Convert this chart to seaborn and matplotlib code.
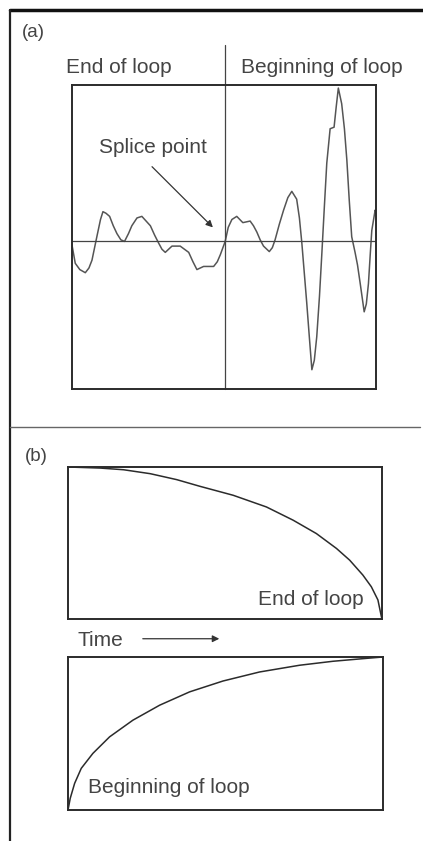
import matplotlib
matplotlib.use("Agg")
import matplotlib.pyplot as plt
from matplotlib.lines import Line2D
import numpy as np
import pandas as pd
import seaborn as sns

sns.set_style("white")
plt.rcParams["font.family"] = ["Liberation Sans", "DejaVu Sans"]

# Waveform around the loop splice (time relative to splice, amplitude)
wave_t = [-50.4, -49.3, -47.8, -46.0, -44.8, -43.8, -42.2, -41.0, -40.2, -39.2, -38.0,
          -36.8, -35.6, -34.3, -33.1, -31.8, -30.7, -29.0, -27.4, -26.0, -24.6, -23.2,
          -21.9, -20.8, -19.7, -18.6, -17.5, -14.8, -13.4, -12.0, -10.6, -9.3, -8.2,
          -7.1, -3.8, -2.6, -1.6, 0.0, 1.0, 2.2, 3.8, 5.8, 8.2, 9.3, 10.4, 11.5, 12.6,
          14.5, 15.5, 16.4, 17.8, 19.2, 20.6, 21.9, 23.5, 24.4, 25.2, 26.0, 26.8, 27.7,
          28.5, 29.3, 30.1, 31.0, 31.8, 32.6, 33.4, 34.5, 35.8, 36.5, 37.2, 38.3, 39.2,
          40.0, 40.8, 41.6, 42.7, 43.5, 44.4, 45.7, 46.4, 47.1, 47.7, 48.2, 49.3, 49.6]
wave_y = [-0.02, -0.14, -0.18, -0.20, -0.17, -0.12, 0.03, 0.14, 0.19, 0.18, 0.16,
          0.10, 0.05, 0.01, 0.00, 0.05, 0.10, 0.15, 0.16, 0.13, 0.10, 0.04,
          -0.01, -0.05, -0.07, -0.05, -0.03, -0.03, -0.05, -0.07, -0.13, -0.18, -0.17,
          -0.16, -0.16, -0.13, -0.085, 0.0, 0.09, 0.14, 0.16, 0.12, 0.13, 0.10, 0.06, 0.01, -0.03,
          -0.065, -0.04, 0.01, 0.11, 0.20, 0.28, 0.32, 0.27, 0.15, -0.01, -0.20, -0.39, -0.62,
          -0.82, -0.76, -0.61, -0.35, -0.07, 0.22, 0.50, 0.72, 0.73, 0.86, 0.98, 0.88, 0.72,
          0.52, 0.26, 0.03, -0.07, -0.15, -0.27, -0.45, -0.40, -0.27, -0.08, 0.07, 0.20, 0.18]

# Fade-out envelope at the end of the loop (time fraction, gain)
fade_out_t = [0.0, 0.103, 0.177, 0.262, 0.346, 0.42, 0.526, 0.632, 0.717, 0.791,
              0.855, 0.897, 0.939, 0.966, 0.987, 0.998, 1.0]
fade_out_g = [1.0, 0.993, 0.982, 0.956, 0.917, 0.873, 0.814, 0.737, 0.650, 0.562,
              0.464, 0.387, 0.289, 0.212, 0.125, 0.015, 0.0]

# Fade-in envelope at the beginning of the loop
fade_in_t = [0.0, 0.007, 0.021, 0.042, 0.079, 0.132, 0.206, 0.291, 0.386, 0.492,
             0.608, 0.735, 0.841, 0.947, 1.0]
fade_in_g = [0.0, 0.076, 0.174, 0.272, 0.370, 0.478, 0.587, 0.685, 0.772, 0.843,
             0.902, 0.946, 0.972, 0.991, 1.0]

ink = "#2b2b2b"
wave_col = "#555555"
txt_col = "#444444"
fs = 15

fig = plt.figure(figsize=(4.23, 8.41), dpi=100)

# ---- (a) waveform at the splice ----
ax_a = fig.add_axes([0.170, 0.5375, 0.719, 0.3615])
sns.lineplot(data=pd.DataFrame({"t": wave_t, "y": wave_y}), x="t", y="y",
             ax=ax_a, color=wave_col, linewidth=1.1, sort=False, estimator=None)
ax_a.set_xlim(-50.4, 49.6)
ax_a.set_ylim(-0.943, 1.0)
ax_a.axhline(0, color="#444444", linewidth=0.9)
ax_a.axvline(0, ymin=0, ymax=1.13, color="#444444", linewidth=0.9, clip_on=False)
ax_a.annotate("", xy=(-3.4, 0.077), xytext=(-24.7, 0.49),
              arrowprops=dict(arrowstyle="-|>", color="#333333", lw=0.9,
                              mutation_scale=10))
ax_a.text(-23.8, 0.60, "Splice point", ha="center", va="center",
          fontsize=fs, color=txt_col)

# ---- (b) crossfade envelopes ----
ax_b1 = fig.add_axes([0.1608, 0.2640, 0.7423, 0.1807])
sns.lineplot(data=pd.DataFrame({"t": fade_out_t, "g": fade_out_g}), x="t", y="g",
             ax=ax_b1, color=ink, linewidth=1.1, sort=False, estimator=None)
ax_b1.text(0.94, 0.125, "End of loop", transform=ax_b1.transAxes,
           ha="right", va="center", fontsize=fs, color=txt_col)

ax_b2 = fig.add_axes([0.1608, 0.0369, 0.7447, 0.1819])
sns.lineplot(data=pd.DataFrame({"t": fade_in_t, "g": fade_in_g}), x="t", y="g",
             ax=ax_b2, color=ink, linewidth=1.1, sort=False, estimator=None)
ax_b2.text(0.063, 0.144, "Beginning of loop", transform=ax_b2.transAxes,
           ha="left", va="center", fontsize=fs, color=txt_col)

for ax in (ax_b1, ax_b2):
    ax.set_xlim(0, 1)
    ax.set_ylim(0, 1)

for ax in (ax_a, ax_b1, ax_b2):
    ax.set_xticks([])
    ax.set_yticks([])
    ax.set_xlabel("")
    ax.set_ylabel("")
    for s in ax.spines.values():
        s.set_visible(True)
        s.set_color(ink)
        s.set_linewidth(1.4)

# ---- labels and frame ----
fig.text(0.052, 0.961, "(a)", ha="left", va="center", fontsize=13.5, color=txt_col)
fig.text(0.281, 0.920, "End of loop", ha="center", va="center", fontsize=fs, color=txt_col)
fig.text(0.761, 0.920, "Beginning of loop", ha="center", va="center", fontsize=fs, color=txt_col)
fig.text(0.059, 0.4566, "(b)", ha="left", va="center", fontsize=13.5, color=txt_col)
fig.text(0.184, 0.239, "Time", ha="left", va="center", fontsize=fs, color=txt_col)
fig.patches.append(matplotlib.patches.FancyArrowPatch(
    (0.331, 0.2405), (0.525, 0.2405), transform=fig.transFigure,
    arrowstyle="-|>", mutation_scale=10, color="#333333", lw=0.9))

fig.lines.append(Line2D([0.0236, 1.0], [0.988, 0.988], transform=fig.transFigure,
                        color="#111111", linewidth=2.5))
fig.lines.append(Line2D([0.0236, 0.0236], [0.0, 0.988], transform=fig.transFigure,
                        color="#222222", linewidth=1.6))
fig.lines.append(Line2D([0.0236, 0.993], [0.4923, 0.4923], transform=fig.transFigure,
                        color="#666666", linewidth=1.0))

fig.savefig("out.png", dpi=100)
